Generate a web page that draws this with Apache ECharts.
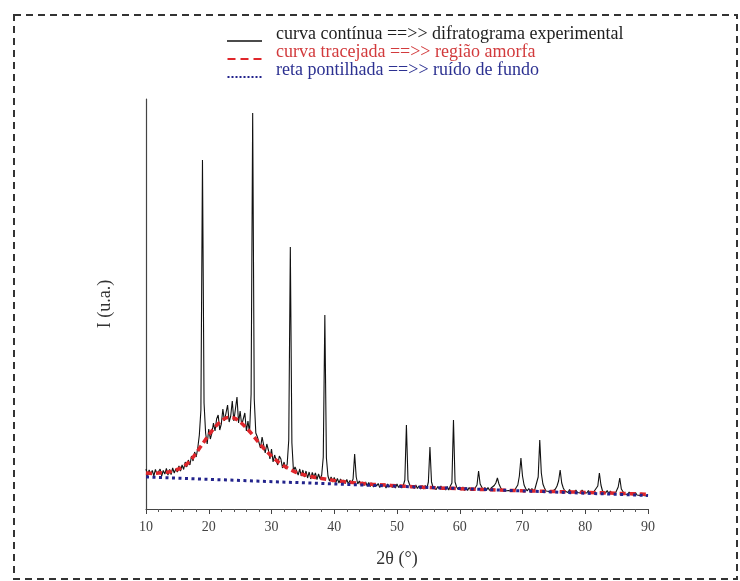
<!DOCTYPE html>
<html>
<head>
<meta charset="utf-8">
<script src="https://cdn.jsdelivr.net/npm/echarts@6/dist/echarts.min.js"></script>
<style>
  html, body { margin: 0; padding: 0; background: #fff; }
  #chart { width: 740px; height: 581px; }
</style>
</head>
<body>
<div id="chart"></div>
<script>
// Series names (also shown in the legend)
const nameExperimental = 'curva contínua ==>> difratograma experimental';
const nameAmorphous = 'curva tracejada ==>> região amorfa';
const nameBackground = 'reta pontilhada ==>> ruído de fundo';

// Step-scan of the diffractogram: 10° to 90° in steps of 0.25°
const scanStart = 10;
const scanStep = 0.25;
// Measured intensity (arbitrary units), one row per degree
const expCounts = [
  400, 335, 390, 345,
  385, 330, 395, 350,
  345, 400, 330, 385,
  350, 405, 340, 395,
  345, 410, 360, 400,
  370, 430, 380, 440,
  395, 470, 420, 490,
  440, 530, 480, 570,
  520, 610, 740, 990,
  3490, 1060, 760, 650,
  800, 700, 760, 860,
  780, 900, 940, 790,
  850, 1000, 880, 960,
  1040, 870, 930, 1080,
  880, 1000, 1120, 860,
  980, 840, 900, 960,
  780, 880, 760, 1150,
  3960, 1100, 760, 720,
  700, 610, 720, 640,
  560, 650, 590, 500,
  600, 470, 540, 480,
  440, 530, 500, 410,
  470, 400, 450, 690,
  2620, 660, 380, 420,
  410, 340, 400, 330,
  390, 320, 380, 310,
  370, 300, 365, 320,
  360, 295, 350, 300,
  340, 520, 1940, 510,
  330, 280, 320, 270,
  315, 265, 305, 260,
  300, 265, 290, 255,
  295, 250, 285, 260,
  300, 550, 320, 250,
  280, 240, 270, 235,
  270, 230, 265, 225,
  260, 220, 255, 230,
  255, 215, 245, 225,
  250, 210, 250, 220,
  245, 215, 245, 210,
  250, 215, 240, 210,
  235, 290, 840, 290,
  245, 210, 235, 205,
  240, 205, 230, 200,
  235, 200, 235, 205,
  270, 620, 270, 215,
  235, 195, 225, 200,
  230, 195, 220, 190,
  225, 190, 230, 260,
  890, 270, 220, 195,
  220, 190, 220, 185,
  215, 185, 215, 190,
  210, 185, 215, 240,
  380, 250, 220, 190,
  215, 185, 215, 185,
  210, 215, 235, 260,
  310, 250, 215, 190,
  200, 180, 200, 185,
  195, 180, 200, 185,
  215, 240, 330, 510,
  330, 240, 205, 180,
  205, 175, 205, 175,
  205, 225, 320, 690,
  360, 250, 210, 180,
  195, 175, 190, 175,
  195, 200, 230, 280,
  390, 260, 210, 180,
  195, 165, 195, 170,
  190, 165, 190, 165,
  185, 160, 190, 165,
  185, 160, 185, 160,
  180, 160, 185, 200,
  230, 360, 240, 180,
  180, 160, 185, 155,
  180, 155, 175, 150,
  185, 220, 310, 200,
  175, 150, 170, 145,
  170, 145, 165, 140,
  165, 140, 160, 135,
  160, 135, 150, 130,
  145
];

// Amorphous halo fitted under the pattern
const amorphAngle = [10, 11, 12, 13, 14, 15, 16, 17, 18, 19, 20, 21, 22, 23, 24, 25, 26, 27, 28, 29,
  30, 31, 32, 33, 34, 35, 36, 37, 38, 39, 40, 42, 44, 46, 48, 50, 55, 60, 65, 70, 75, 80, 85, 90];
const amorphCounts = [360, 355, 360, 365, 375, 395, 425, 480, 560, 650, 740, 820, 880, 915, 910, 870, 810, 740, 660, 590,
  530, 475, 430, 395, 365, 345, 330, 315, 305, 295, 285, 270, 258, 248, 240, 232, 215, 203, 192, 182, 175, 166, 157, 148];

// Straight background line
const backgroundAngle = [10, 90];
const backgroundCounts = [320, 135];

// X axis ticks
const xMin = 10, xMax = 90, xInterval = 10;

const zip = (xs, ys) => xs.map((x, i) => [x, ys[i]]);
const experimental = expCounts.map((c, i) => [scanStart + i * scanStep, c]);

const serif = '"Liberation Serif", "DejaVu Serif", serif';
const tiny = 'M0,0h0.01v0.01h-0.01z ';

const chart = echarts.init(document.getElementById('chart'), null, { renderer: 'canvas' });
chart.setOption({
  backgroundColor: '#ffffff',
  animation: false,
  grid: { left: 146, right: 92, top: 99, bottom: 72 },
  legend: {
    orient: 'vertical',
    left: 227,
    top: 25,
    padding: 0,
    itemWidth: 35,
    itemHeight: 16,
    itemGap: 0,
    selectedMode: false,
    itemStyle: { borderWidth: 0 },
    textStyle: { fontFamily: serif, fontSize: 18, lineHeight: 16, padding: [0, 0, 0, 9] },
    data: [
      { name: nameExperimental, icon: 'path://' + tiny + 'M0,14h35v1.3h-35z', textStyle: { color: '#1e1e1e' } },
      { name: nameAmorphous, icon: 'path://' + tiny + 'M0,14h8v2h-8z M13,14h8v2h-8z M26,14h8v2h-8z', textStyle: { color: '#d23a3c' } },
      { name: nameBackground, icon: 'path://' + tiny + 'M0,14h2v2h-2z M4,14h2v2h-2z M8,14h2v2h-2z M12,14h2v2h-2z M16,14h2v2h-2z M20,14h2v2h-2z M24,14h2v2h-2z M28,14h2v2h-2z M32,14h2v2h-2z', textStyle: { color: '#2c3191' } }
    ]
  },
  xAxis: {
    type: 'value',
    min: xMin,
    max: xMax,
    interval: xInterval,
    name: '2θ (°)',
    nameLocation: 'middle',
    nameGap: 41,
    nameTextStyle: { fontFamily: serif, fontSize: 18, color: '#333' },
    axisLine: { lineStyle: { color: '#444', width: 1.2 } },
    axisTick: { show: true, length: 5, lineStyle: { color: '#444' } },
    minorTick: { show: true, splitNumber: 5, length: 3, lineStyle: { color: '#555' } },
    axisLabel: { fontFamily: serif, fontSize: 14, color: '#444', margin: 11 },
    splitLine: { show: false }
  },
  yAxis: {
    type: 'value',
    min: 0,
    max: 4100,
    name: 'I (u.a.)',
    nameLocation: 'middle',
    nameRotate: 90,
    nameGap: 32,
    nameTextStyle: { fontFamily: serif, fontSize: 18, color: '#333' },
    axisLine: { show: true, lineStyle: { color: '#444', width: 1.2 } },
    axisTick: { show: false },
    axisLabel: { show: false },
    splitLine: { show: false }
  },
  series: [
    {
      name: nameExperimental,
      type: 'line',
      data: experimental,
      showSymbol: false,
      color: '#111111',
      lineStyle: { color: '#111111', width: 1.1 },
      z: 2
    },
    {
      name: nameAmorphous,
      type: 'line',
      data: zip(amorphAngle, amorphCounts),
      smooth: 0.3,
      showSymbol: false,
      color: '#e0262b',
      lineStyle: { color: '#e0262b', width: 3.5, type: [6, 4] },
      z: 3
    },
    {
      name: nameBackground,
      type: 'line',
      data: zip(backgroundAngle, backgroundCounts),
      showSymbol: false,
      color: '#22238c',
      lineStyle: { color: '#22238c', width: 3, type: [3, 3.5] },
      z: 4
    }
  ],
  graphic: [
    {
      type: 'rect',
      silent: true,
      shape: { x: 14, y: 15, width: 723, height: 564 },
      style: { fill: 'none', stroke: '#333', lineWidth: 2, lineDash: [7, 5] }
    }
  ]
});
</script>
</body>
</html>
